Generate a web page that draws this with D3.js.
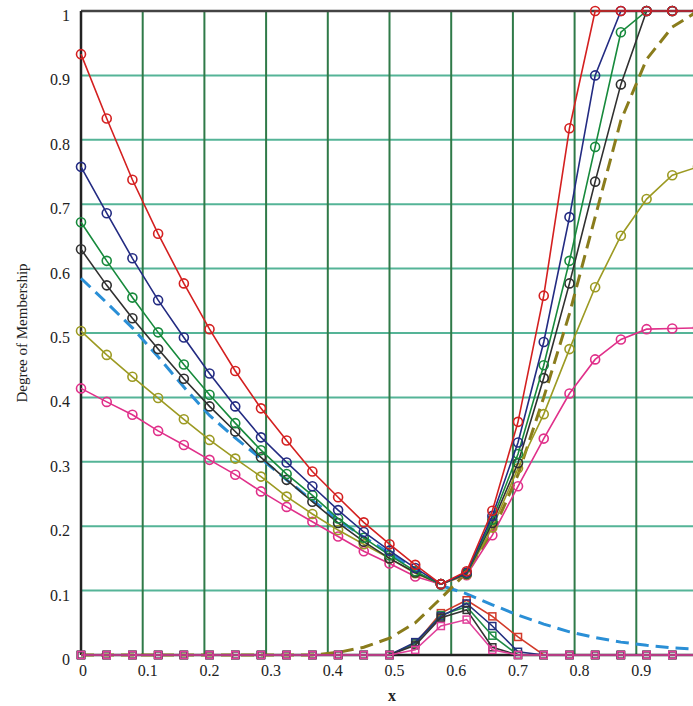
<!DOCTYPE html>
<html>
<head>
<meta charset="utf-8">
<script src="https://cdn.jsdelivr.net/npm/d3@7"></script>
<style>
  body { margin: 0; background: #fff; }
  svg { display: block; }
</style>
</head>
<body>
<div id="vis"><svg></svg></div>
<script>
// x positions of the sample points (steps of 1/24)
var xs = [0, 0.0417, 0.0833, 0.125, 0.1667, 0.2083, 0.25, 0.2917, 0.3333, 0.375,
          0.4167, 0.4583, 0.5, 0.5417, 0.5833, 0.625, 0.6667, 0.7083, 0.75, 0.7917,
          0.8333, 0.875, 0.9167, 0.9583, 1];

// circle-marker curves
var redC   = [0.933, 0.833, 0.738, 0.654, 0.577, 0.506, 0.441, 0.383, 0.333, 0.285, 0.245, 0.206, 0.172, 0.140, 0.110, 0.130, 0.224, 0.362, 0.558, 0.818, 1, 1, 1, 1, 1];
var navyC  = [0.758, 0.686, 0.616, 0.551, 0.493, 0.437, 0.386, 0.338, 0.299, 0.262, 0.225, 0.191, 0.162, 0.135, 0.110, 0.128, 0.216, 0.330, 0.486, 0.680, 0.900, 1, 1, 1, 1];
var greenC = [0.672, 0.612, 0.555, 0.501, 0.451, 0.404, 0.360, 0.318, 0.281, 0.248, 0.212, 0.182, 0.155, 0.130, 0.110, 0.127, 0.210, 0.312, 0.450, 0.612, 0.789, 0.967, 1, 1, 1];
var blackC = [0.630, 0.574, 0.523, 0.475, 0.429, 0.386, 0.347, 0.307, 0.272, 0.238, 0.205, 0.176, 0.150, 0.128, 0.110, 0.126, 0.205, 0.298, 0.430, 0.577, 0.735, 0.886, 1, 1, 1];
var oliveC = [0.503, 0.466, 0.432, 0.399, 0.366, 0.334, 0.305, 0.277, 0.246, 0.219, 0.194, 0.172, 0.150, 0.127, 0.110, 0.125, 0.198, 0.290, 0.374, 0.475, 0.571, 0.651, 0.708, 0.745, 0.758];
var pinkC  = [0.414, 0.393, 0.373, 0.348, 0.326, 0.303, 0.280, 0.254, 0.230, 0.207, 0.184, 0.161, 0.142, 0.122, 0.110, 0.124, 0.186, 0.262, 0.336, 0.406, 0.459, 0.490, 0.506, 0.507, 0.508];

// dashed curves (no markers)
var blueD  = [0.585, 0.547, 0.508, 0.463, 0.416, 0.372, 0.337, 0.305, 0.272, 0.240, 0.210, 0.183, 0.158, 0.133, 0.108, 0.095, 0.078, 0.062, 0.048, 0.036, 0.027, 0.020, 0.015, 0.011, 0.009];
var oliveD = [0, 0, 0, 0, 0, 0, 0, 0, 0, 0, 0.004, 0.012, 0.026, 0.050, 0.088, 0.128, 0.190, 0.280, 0.400, 0.530, 0.680, 0.830, 0.925, 0.975, 1];

// square-marker bumps near the bottom
var redS   = [0, 0, 0, 0, 0, 0, 0, 0, 0, 0, 0, 0, 0, 0.018, 0.065, 0.085, 0.060, 0.028, 0, 0, 0, 0, 0, 0, 0];
var navyS  = [0, 0, 0, 0, 0, 0, 0, 0, 0, 0, 0, 0, 0, 0.020, 0.060, 0.080, 0.045, 0.005, 0, 0, 0, 0, 0, 0, 0];
var greenS = [0, 0, 0, 0, 0, 0, 0, 0, 0, 0, 0, 0, 0, 0.018, 0.062, 0.075, 0.030, 0, 0, 0, 0, 0, 0, 0, 0];
var blackS = [0, 0, 0, 0, 0, 0, 0, 0, 0, 0, 0, 0, 0, 0.015, 0.058, 0.070, 0.012, 0, 0, 0, 0, 0, 0, 0, 0];
var pinkS  = [0, 0, 0, 0, 0, 0, 0, 0, 0, 0, 0, 0, 0, 0.008, 0.045, 0.055, 0.008, 0, 0, 0, 0, 0, 0, 0, 0];

var xTicks = [0, 0.1, 0.2, 0.3, 0.4, 0.5, 0.6, 0.7, 0.8, 0.9];
var yTicks = [0, 0.1, 0.2, 0.3, 0.4, 0.5, 0.6, 0.7, 0.8, 0.9, 1];

var width = 693, height = 706;

var svg = d3.select("#vis").select("svg")
    .attr("width", width)
    .attr("height", height);

// plot runs past the right edge of the picture (x=1 is cut off)
var x = d3.scaleLinear().domain([0, 1]).range([81, 698]);
var y = d3.scaleLinear().domain([0, 1]).range([655, 11]);

// grid
svg.append("g").selectAll("line")
    .data(yTicks.filter(function(d) { return d > 0 && d < 1; }))
    .enter().append("line")
    .attr("x1", x(0)).attr("x2", width)
    .attr("y1", function(d) { return y(d); })
    .attr("y2", function(d) { return y(d); })
    .attr("stroke", "#55b497")
    .attr("stroke-width", 2);

svg.append("g").selectAll("line")
    .data(xTicks.filter(function(d) { return d > 0; }))
    .enter().append("line")
    .attr("x1", function(d) { return x(d); })
    .attr("x2", function(d) { return x(d); })
    .attr("y1", y(1)).attr("y2", y(0))
    .attr("stroke", "#2f7a48")
    .attr("stroke-width", 2);

// frame
svg.append("line").attr("x1", x(0)).attr("x2", width).attr("y1", y(1)).attr("y2", y(1))
    .attr("stroke", "#444").attr("stroke-width", 2.5);
svg.append("line").attr("x1", x(0)).attr("x2", width).attr("y1", y(0)).attr("y2", y(0))
    .attr("stroke", "#222").attr("stroke-width", 2.5);
svg.append("line").attr("x1", x(0)).attr("x2", x(0)).attr("y1", y(1)).attr("y2", y(0))
    .attr("stroke", "#222").attr("stroke-width", 2.5);

// tick labels
svg.append("g").selectAll("text")
    .data(yTicks)
    .enter().append("text")
    .attr("x", 70)
    .attr("y", function(d) { return y(d) + 10; })
    .attr("text-anchor", "end")
    .style("font", "16px 'Liberation Serif', serif")
    .attr("fill", "#222")
    .text(function(d) { return d === 0 ? "0" : d === 1 ? "1" : d3.format(".1f")(d); });

svg.append("g").selectAll("text")
    .data(xTicks)
    .enter().append("text")
    .attr("x", function(d) { return x(d) + (d === 0 ? 2 : 5); })
    .attr("y", 676)
    .attr("text-anchor", "middle")
    .style("font", "16px 'Liberation Serif', serif")
    .attr("fill", "#222")
    .text(function(d) { return d === 0 ? "0" : d3.format(".1f")(d); });

svg.append("text")
    .attr("x", 392).attr("y", 701)
    .attr("text-anchor", "middle")
    .style("font", "bold 16px 'Liberation Serif', serif")
    .attr("fill", "#222")
    .text("x");

svg.append("text")
    .attr("transform", "translate(27,333) rotate(-90)")
    .attr("text-anchor", "middle")
    .style("font", "15px 'Liberation Serif', serif")
    .attr("fill", "#222")
    .text("Degree of Membership");

var line = d3.line()
    .x(function(d, i) { return x(xs[i]); })
    .y(function(d) { return y(d); });

var plot = svg.append("g");

// dashed curves
var dashed = [
  {values: blueD, color: "#2a8fd6"},
  {values: oliveD, color: "#8a7c1c"}
];
plot.selectAll(".dash")
    .data(dashed)
    .enter().append("path")
    .attr("class", "dash")
    .attr("d", function(d) { return line(d.values); })
    .attr("fill", "none")
    .attr("stroke", function(d) { return d.color; })
    .attr("stroke-width", 3)
    .attr("stroke-dasharray", "13,7");

// square-marker bumps
var bumps = [
  {values: redS, color: "#d23a2a"},
  {values: greenS, color: "#1f8a45"},
  {values: navyS, color: "#24307f"},
  {values: blackS, color: "#333"},
  {values: pinkS, color: "#e0409a"}
];
var bump = plot.selectAll(".bump")
    .data(bumps)
    .enter().append("g")
    .attr("class", "bump");
bump.append("path")
    .attr("d", function(d) { return line(d.values); })
    .attr("fill", "none")
    .attr("stroke", function(d) { return d.color; })
    .attr("stroke-width", 1.6);
bump.selectAll("rect")
    .data(function(d) { return d.values.map(function(v, i) { return {v: v, i: i, color: d.color}; }); })
    .enter().append("rect")
    .attr("x", function(d) { return x(xs[d.i]) - 3.5; })
    .attr("y", function(d) { return y(d.v) - 3.5; })
    .attr("width", 7).attr("height", 7)
    .attr("fill", "none")
    .attr("stroke", function(d) { return d.color; })
    .attr("stroke-width", 1.5);

// circle-marker curves
var curves = [
  {values: pinkC, color: "#e0308a"},
  {values: oliveC, color: "#9c9a22"},
  {values: blackC, color: "#303030"},
  {values: greenC, color: "#178a3c"},
  {values: navyC, color: "#232b82"},
  {values: redC, color: "#d42020"}
];
var curve = plot.selectAll(".curve")
    .data(curves)
    .enter().append("g")
    .attr("class", "curve");
curve.append("path")
    .attr("d", function(d) { return line(d.values); })
    .attr("fill", "none")
    .attr("stroke", function(d) { return d.color; })
    .attr("stroke-width", 1.6);
curve.selectAll("circle")
    .data(function(d) { return d.values.map(function(v, i) { return {v: v, i: i, color: d.color}; }); })
    .enter().append("circle")
    .attr("cx", function(d) { return x(xs[d.i]); })
    .attr("cy", function(d) { return y(d.v); })
    .attr("r", 4.5)
    .attr("fill", "none")
    .attr("stroke", function(d) { return d.color; })
    .attr("stroke-width", 1.6);
</script>
</body>
</html>
